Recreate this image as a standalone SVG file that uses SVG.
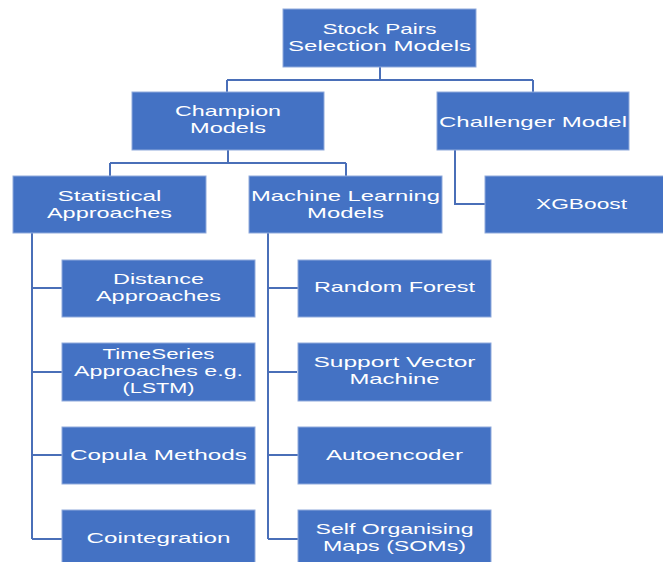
<svg xmlns="http://www.w3.org/2000/svg" width="663" height="562" viewBox="0 0 663 562">
<style>
.box{fill:#4472C4;stroke:#8faadc;stroke-width:1}
.t{font-family:"Liberation Sans",Arial,sans-serif;font-size:15px;fill:#ffffff;text-anchor:middle}
.c{fill:none;stroke:#4a6fb8;stroke-width:2}
</style>
<rect width="663" height="562" fill="#ffffff"/>
<g id="connectors">
<path class="c" d="M380,67 V80 M227,80 H533 M227,80 V92 M533,80 V92"/>
<path class="c" d="M228,150 V163 M110,163 H346 M110,163 V176 M346,163 V176"/>
<path class="c" d="M455,150 V204 H485"/>
<path class="c" d="M32,233 V539 M32,288 H62 M32,372 H62 M32,455 H62 M32,539 H62"/>
<path class="c" d="M268,233 V539 M268,288 H298 M268,372 H297 M268,455 H298 M268,539 H298"/>
</g>
<g id="root"><rect class="box" x="283" y="9" width="193" height="58"/>
<text class="t" x="379.5" y="34" textLength="114" lengthAdjust="spacingAndGlyphs">Stock Pairs</text>
<text class="t" x="379.5" y="51" textLength="183" lengthAdjust="spacingAndGlyphs">Selection Models</text></g>
<g id="champion"><rect class="box" x="132" y="92" width="192" height="58"/>
<text class="t" x="228" y="116" textLength="106" lengthAdjust="spacingAndGlyphs">Champion</text>
<text class="t" x="228" y="133" textLength="76" lengthAdjust="spacingAndGlyphs">Models</text></g>
<g id="challenger"><rect class="box" x="437" y="92" width="192" height="58"/>
<text class="t" x="533" y="127" textLength="188" lengthAdjust="spacingAndGlyphs">Challenger Model</text></g>
<g id="statistical"><rect class="box" x="13" y="176" width="193" height="57"/>
<text class="t" x="109.5" y="201" textLength="104" lengthAdjust="spacingAndGlyphs">Statistical</text>
<text class="t" x="109.5" y="218" textLength="125" lengthAdjust="spacingAndGlyphs">Approaches</text></g>
<g id="ml"><rect class="box" x="249" y="176" width="193" height="57"/>
<text class="t" x="345.5" y="201" textLength="189" lengthAdjust="spacingAndGlyphs">Machine Learning</text>
<text class="t" x="345.5" y="218" textLength="77" lengthAdjust="spacingAndGlyphs">Models</text></g>
<g id="xgboost"><rect class="box" x="485" y="176" width="193" height="57"/>
<text class="t" x="581.5" y="209" textLength="91" lengthAdjust="spacingAndGlyphs">XGBoost</text></g>
<g id="distance"><rect class="box" x="62" y="260" width="193" height="57"/>
<text class="t" x="158.5" y="284" textLength="91" lengthAdjust="spacingAndGlyphs">Distance</text>
<text class="t" x="158.5" y="301" textLength="125" lengthAdjust="spacingAndGlyphs">Approaches</text></g>
<g id="timeseries"><rect class="box" x="62" y="343" width="193" height="58"/>
<text class="t" x="158.5" y="359" textLength="112" lengthAdjust="spacingAndGlyphs">TimeSeries</text>
<text class="t" x="158.5" y="376" textLength="169" lengthAdjust="spacingAndGlyphs">Approaches e.g.</text>
<text class="t" x="158.5" y="393" textLength="72" lengthAdjust="spacingAndGlyphs">(LSTM)</text></g>
<g id="copula"><rect class="box" x="62" y="427" width="193" height="57"/>
<text class="t" x="158.5" y="460" textLength="177" lengthAdjust="spacingAndGlyphs">Copula Methods</text></g>
<g id="cointegration"><rect class="box" x="62" y="510" width="193" height="57"/>
<text class="t" x="158.5" y="543" textLength="144" lengthAdjust="spacingAndGlyphs">Cointegration</text></g>
<g id="randomforest"><rect class="box" x="298" y="260" width="193" height="57"/>
<text class="t" x="394.5" y="292" textLength="161" lengthAdjust="spacingAndGlyphs">Random Forest</text></g>
<g id="svm"><rect class="box" x="298" y="343" width="193" height="58"/>
<text class="t" x="394.5" y="367" textLength="162" lengthAdjust="spacingAndGlyphs">Support Vector</text>
<text class="t" x="394.5" y="384" textLength="90" lengthAdjust="spacingAndGlyphs">Machine</text></g>
<g id="autoencoder"><rect class="box" x="298" y="427" width="193" height="57"/>
<text class="t" x="394.5" y="460" textLength="137" lengthAdjust="spacingAndGlyphs">Autoencoder</text></g>
<g id="som"><rect class="box" x="298" y="510" width="193" height="57"/>
<text class="t" x="394.5" y="534" textLength="158" lengthAdjust="spacingAndGlyphs">Self Organising</text>
<text class="t" x="394.5" y="551" textLength="143" lengthAdjust="spacingAndGlyphs">Maps (SOMs)</text></g>
</svg>
